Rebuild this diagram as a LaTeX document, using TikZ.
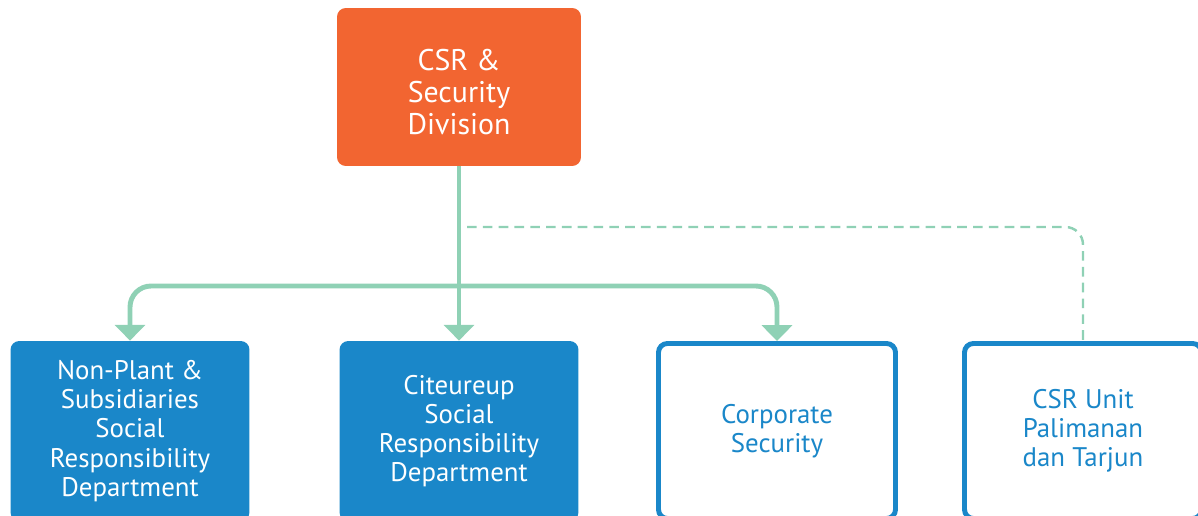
\documentclass[tikz,border=0pt]{standalone}
\usepackage{fontspec}
\setmainfont{PT Sans}
\usepackage{xcolor}
\usetikzlibrary{arrows.meta, positioning}

\definecolor{csrorange}{HTML}{F26531}
\definecolor{deptblue}{HTML}{1A87C9}
\definecolor{linkgreen}{HTML}{8FD1B5}

\begin{document}
\begin{tikzpicture}[x=0.02cm, y=-0.02cm,
    divbox/.style={rectangle, rounded corners=5pt, fill=csrorange,
      minimum width=4.88cm, minimum height=3.16cm},
    divtext/.style={text=white, align=center, font=\fontsize{17}{18.1}\selectfont},
    deptbox/.style={rectangle, rounded corners=5pt, fill=deptblue, text=white, align=center,
      minimum width=4.78cm, minimum height=3.6cm, font=\fontsize{15.3}{16.6}\selectfont},
    unitbox/.style={rectangle, rounded corners=5pt, draw=deptblue, line width=2.8pt, fill=white,
      text=deptblue, align=center, minimum width=4.74cm, minimum height=3.5cm,
      font=\fontsize{15.3}{16.6}\selectfont},
    link/.style={draw=linkgreen, line width=2.8pt, rounded corners=12pt,
      -{Triangle[width=17pt, length=9pt]}},
    dashlink/.style={draw=linkgreen, line width=1.4pt, rounded corners=10pt,
      dash pattern=on 5.5pt off 3.5pt}]
  \useasboundingbox (0,0) rectangle (1198,516);

  \node[divbox, label={[divtext, yshift=-3pt]center:{CSR \&\\Security\\Division}}] (csr) at (459,87) {};

  \node[deptbox] (nonplant) at (130,431) {Non-Plant \&\\Subsidiaries\\Social\\Responsibility\\Department};
  \node[deptbox] (citeureup) at (459,431) {Citeureup\\Social\\Responsibility\\Department};
  \node[unitbox] (corpsec) at (777,431) {Corporate\\Security};
  \node[unitbox] (palimanan) at (1083,431) {CSR Unit\\Palimanan\\dan Tarjun};

  \coordinate (branch) at (459,286);
  \coordinate (dashstart) at (467,227);

  % reporting lines
  \draw[dashlink] (dashstart) -| (palimanan.north);
  \draw[link] (csr.south) -- (citeureup.north);
  \draw[link] (branch) -| (nonplant.north);
  \draw[link] (branch) -| (corpsec.north);
\end{tikzpicture}
\end{document}
